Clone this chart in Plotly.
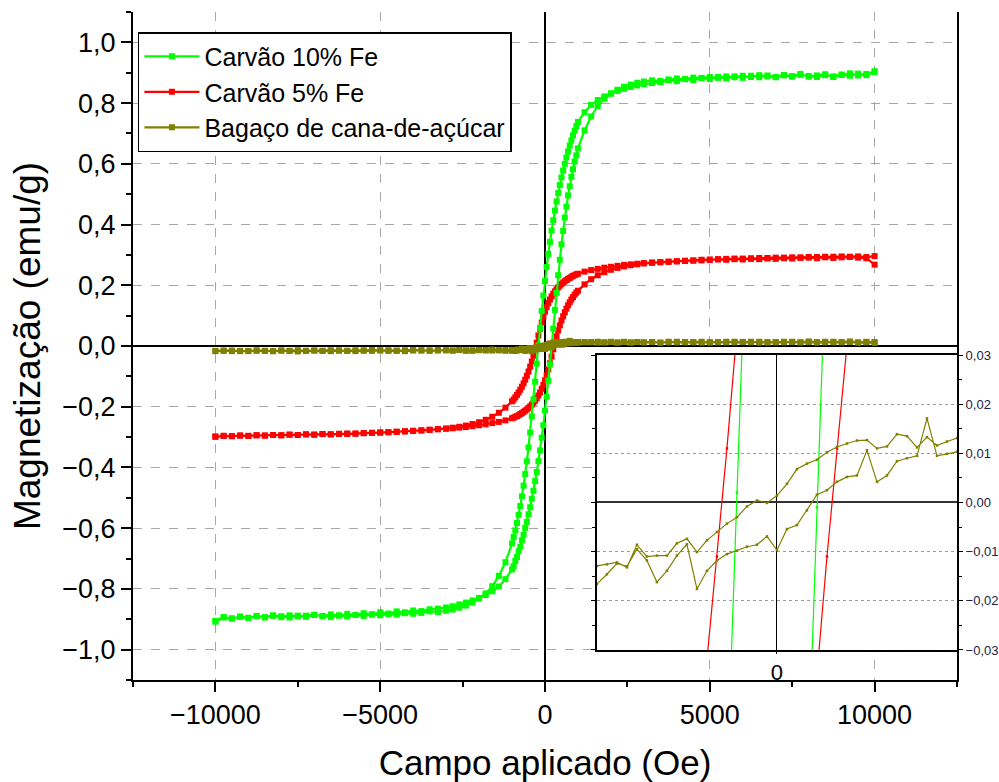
import plotly.graph_objects as go

# ---------------- data ----------------
# field sweep (Oe): descending branch +10000 -> -10000
H_down = [10000, 9750, 9500, 9250, 9000, 8750, 8500, 8250, 8000, 7750, 7500, 7250, 7000, 6750, 6500,
          6250, 6000, 5750, 5500, 5250, 5000, 4750, 4500, 4250, 4000, 3750, 3500, 3250, 3000,
          2800, 2600, 2400, 2200, 2000, 1800, 1600, 1400, 1200,
          1000, 950, 900, 850, 800, 750, 700, 650, 600, 550, 500, 450, 400, 350, 300, 250, 200, 150, 100, 50,
          0, -50, -100, -150, -200, -250, -300, -350, -400, -450, -500, -550, -600, -650, -700, -750, -800,
          -850, -900, -950, -1000,
          -1200, -1400, -1600, -1800, -2000, -2200, -2400, -2600, -2800,
          -3000, -3250, -3500, -3750, -4000, -4250, -4500, -4750, -5000, -5250, -5500, -5750, -6000, -6250,
          -6500, -6750, -7000, -7250, -7500, -7750, -8000, -8250, -8500, -8750, -9000, -9250, -9500, -9750, -10000]
# ascending branch -10000 -> +10000 (same field points)
H_up = H_down[::-1]

# Carvão 10% Fe (emu/g)
green_down = [0.905, 0.896, 0.891, 0.898, 0.893, 0.886, 0.895, 0.891, 0.887, 0.896, 0.889, 0.893, 0.886, 0.891, 0.885,
              0.890, 0.883, 0.888, 0.881, 0.886, 0.879, 0.883, 0.876, 0.879, 0.872, 0.875, 0.869, 0.866, 0.862,
              0.858, 0.853, 0.847, 0.840, 0.832, 0.822, 0.810, 0.794, 0.770,
              0.738, 0.724, 0.709, 0.694, 0.677, 0.660, 0.641, 0.621, 0.600, 0.578, 0.555, 0.530, 0.504, 0.476,
              0.446, 0.414, 0.380, 0.343, 0.303, 0.260, 0.214, 0.166, 0.115, 0.060, 0.002, -0.058, -0.118, -0.176,
              -0.232, -0.285, -0.334, -0.380, -0.422, -0.460, -0.495, -0.527, -0.556, -0.583, -0.607, -0.629, -0.650,
              -0.712, -0.757, -0.791, -0.815, -0.832, -0.845, -0.855, -0.862, -0.868,
              -0.872, -0.876, -0.874, -0.879, -0.882, -0.880, -0.885, -0.883, -0.887, -0.884, -0.889, -0.886, -0.891,
              -0.887, -0.893, -0.889, -0.886, -0.892, -0.888, -0.894, -0.890, -0.887, -0.893, -0.889, -0.895, -0.891,
              -0.898, -0.893, -0.905]
green_up = [-0.908, -0.894, -0.897, -0.892, -0.896, -0.890, -0.894, -0.889, -0.893, -0.887, -0.891, -0.888, -0.885,
            -0.890, -0.884, -0.888, -0.882, -0.886, -0.880, -0.884, -0.877, -0.881, -0.874, -0.877, -0.871, -0.873,
            -0.867, -0.865, -0.861,
            -0.857, -0.851, -0.845, -0.838, -0.830, -0.820, -0.808, -0.792, -0.768,
            -0.736, -0.725, -0.708, -0.695, -0.676, -0.661, -0.640, -0.622, -0.599, -0.579, -0.554, -0.531, -0.503,
            -0.477, -0.445, -0.415, -0.379, -0.344, -0.302, -0.261, -0.213, -0.167, -0.114, -0.061, -0.001, 0.057,
            0.119, 0.175, 0.233, 0.284, 0.335, 0.379, 0.423, 0.459, 0.496, 0.526, 0.557, 0.582, 0.608, 0.628, 0.651,
            0.710, 0.756, 0.790, 0.814, 0.831, 0.844, 0.854, 0.861, 0.867,
            0.871, 0.875, 0.873, 0.878, 0.881, 0.879, 0.884, 0.882, 0.886, 0.883, 0.888, 0.885, 0.890, 0.886, 0.892,
            0.888, 0.885, 0.891, 0.887, 0.893, 0.889, 0.886, 0.892, 0.888, 0.894, 0.890, 0.897, 0.892, 0.902]

# Carvão 5% Fe (emu/g)
red_down = [0.268, 0.289, 0.291, 0.293, 0.292, 0.290, 0.292, 0.289, 0.291, 0.290, 0.288, 0.289, 0.287, 0.288, 0.286,
            0.287, 0.285, 0.286, 0.284, 0.285, 0.283, 0.282, 0.281, 0.280, 0.279, 0.278, 0.276, 0.275, 0.273,
            0.271, 0.269, 0.267, 0.264, 0.261, 0.258, 0.254, 0.250, 0.245,
            0.238, 0.236, 0.233, 0.231, 0.228, 0.224, 0.221, 0.217, 0.213, 0.209, 0.204, 0.199, 0.193, 0.187,
            0.180, 0.172, 0.163, 0.153, 0.141, 0.128, 0.113, 0.096, 0.077, 0.057, 0.035, 0.011, -0.011, -0.032,
            -0.051, -0.068, -0.084, -0.098, -0.111, -0.123, -0.134, -0.144, -0.153, -0.161, -0.169, -0.176, -0.182,
            -0.203, -0.220, -0.233, -0.243, -0.251, -0.257, -0.262, -0.266, -0.269,
            -0.272, -0.274, -0.276, -0.278, -0.280, -0.281, -0.283, -0.284, -0.285, -0.286, -0.287, -0.289, -0.288,
            -0.290, -0.291, -0.290, -0.292, -0.291, -0.293, -0.292, -0.294, -0.293, -0.295, -0.294, -0.296, -0.295,
            -0.297, -0.296, -0.298]
red_up = [-0.299, -0.296, -0.297, -0.295, -0.296, -0.294, -0.295, -0.293, -0.294, -0.292, -0.293, -0.291, -0.292,
          -0.290, -0.291, -0.289, -0.290, -0.288, -0.287, -0.286, -0.285, -0.284, -0.282, -0.281, -0.279, -0.278,
          -0.276, -0.274, -0.272,
          -0.271, -0.269, -0.267, -0.264, -0.261, -0.258, -0.254, -0.250, -0.245,
          -0.238, -0.236, -0.233, -0.231, -0.228, -0.224, -0.221, -0.217, -0.213, -0.209, -0.204, -0.199, -0.193,
          -0.187, -0.180, -0.172, -0.163, -0.153, -0.141, -0.128, -0.113, -0.096, -0.077, -0.057, -0.035, -0.011,
          0.011, 0.032, 0.051, 0.068, 0.084, 0.098, 0.111, 0.123, 0.134, 0.144, 0.153, 0.161, 0.169, 0.176, 0.182,
          0.203, 0.220, 0.233, 0.243, 0.251, 0.257, 0.262, 0.266, 0.269,
          0.272, 0.274, 0.276, 0.277, 0.279, 0.281, 0.282, 0.284, 0.285, 0.286, 0.287, 0.288, 0.288, 0.289, 0.290,
          0.290, 0.291, 0.291, 0.292, 0.292, 0.293, 0.293, 0.294, 0.294, 0.295, 0.294, 0.295, 0.293, 0.296]

# Bagaço de cana-de-açúcar (emu/g)
olive_down = [0.013, 0.014, 0.012, 0.015, 0.013, 0.012, 0.014, 0.013, 0.015, 0.012, 0.013, 0.014, 0.012, 0.013,
              0.011, 0.014, 0.013, 0.012, 0.014, 0.012, 0.013, 0.011, 0.013, 0.012, 0.014, 0.012, 0.011, 0.013, 0.012,
              0.013, 0.012, 0.014, 0.011, 0.013, 0.012, 0.014, 0.012, 0.013,
              0.0128, 0.0122, 0.0131, 0.0124, 0.0116, 0.0133, 0.0112, 0.0135, 0.0139, 0.0114, 0.0110, 0.0127,
              0.0126, 0.0120, 0.0113, 0.0102, 0.0087, 0.0079, 0.0068, 0.0038, 0.0014, -0.0001, 0.0004, -0.0008,
              -0.0030, -0.0043, -0.0060, -0.0077, -0.0101, -0.0074, -0.0083, -0.0108, -0.0108, -0.0110, -0.0086,
              -0.0132, -0.0122, -0.0126, -0.0129, -0.0131, -0.0135,
              -0.013, -0.014, -0.012, -0.015, -0.013, -0.014, -0.016, -0.013, -0.015,
              -0.014, -0.015, -0.016, -0.014, -0.015, -0.017, -0.015, -0.016, -0.014, -0.016, -0.015, -0.017, -0.016,
              -0.015, -0.017, -0.016, -0.015, -0.016, -0.018, -0.016, -0.015, -0.017, -0.016, -0.015, -0.017, -0.016,
              -0.017, -0.015, -0.016]
olive_up = [-0.017, -0.016, -0.015, -0.017, -0.016, -0.015, -0.016, -0.017, -0.015, -0.016, -0.014, -0.016, -0.015,
            -0.016, -0.014, -0.015, -0.016, -0.014, -0.015, -0.013, -0.015, -0.014, -0.016, -0.014, -0.013, -0.015,
            -0.014, -0.013, -0.014,
            -0.015, -0.013, -0.014, -0.016, -0.014, -0.013, -0.015, -0.014, -0.016,
            -0.0158, -0.0150, -0.0166, -0.0146, -0.0124, -0.0130, -0.0095, -0.0118, -0.0162, -0.0139, -0.0108,
            -0.0085, -0.0176, -0.0139, -0.0118, -0.0105, -0.0098, -0.0090, -0.0086, -0.0069, -0.0097, -0.0054,
            -0.0046, -0.0016, 0.0016, 0.0025, 0.0042, 0.0052, 0.0055, 0.0106, 0.0042, 0.0055, 0.0084, 0.0090,
            0.0095, 0.0171, 0.0095, 0.0099, 0.0103, 0.0110, 0.0115,
            0.012, 0.013, 0.011, 0.012, 0.014, 0.012, 0.013, 0.011, 0.013,
            0.012, 0.013, 0.011, 0.014, 0.012, 0.013, 0.012, 0.014, 0.011, 0.013, 0.012, 0.014, 0.013, 0.012, 0.014,
            0.011, 0.013, 0.012, 0.014, 0.012, 0.013, 0.011, 0.012, 0.014, 0.012, 0.013, 0.011, 0.012, 0.010]

series_names = ["Carvão 10% Fe", "Carvão 5% Fe", "Bagaço de cana-de-açúcar"]
series_colors = ["#00ff00", "#ff0000", "#808000"]

x_tickvals = [-10000, -5000, 0, 5000, 10000]
inset_tickvals_x = [0]

# ---------------- figure ----------------
FONT = "Liberation Sans, Arial, sans-serif"
H_all = H_down + H_up
series = {
    "Carvão 10% Fe": green_down + green_up,
    "Carvão 5% Fe": red_down + red_up,
    "Bagaço de cana-de-açúcar": olive_down + olive_up,
}
color_of = dict(zip(series_names, series_colors))
rank_of = {n: i for i, n in enumerate(series_names)}
draw_order = ["Carvão 5% Fe", "Carvão 10% Fe", "Bagaço de cana-de-açúcar"]

fig = go.Figure()
for name in draw_order:
    fig.add_trace(go.Scatter(
        x=H_all, y=series[name], mode="lines+markers", name=name,
        legendrank=rank_of[name] + 1,
        line=dict(color=color_of[name], width=2.2),
        marker=dict(symbol="square", size=6, color=color_of[name]),
        xaxis="x", yaxis="y"))
for name in draw_order:
    fig.add_trace(go.Scatter(
        x=H_all, y=series[name], mode="lines+markers", showlegend=False,
        line=dict(color=color_of[name], width=1.2),
        marker=dict(symbol="square", size=2.5, color=color_of[name]),
        xaxis="x2", yaxis="y2"))

grid_col = "#a8a8a8"
fig.update_layout(
    width=999, height=782,
    margin=dict(l=133, r=42, t=12, b=102),
    paper_bgcolor="white", plot_bgcolor="white",
    separators=", ",
    font=dict(family=FONT, color="black"),
    showlegend=True,
    legend=dict(x=0.006, y=0.97, xanchor="left", yanchor="top",
                bgcolor="white", bordercolor="black", borderwidth=1.5,
                font=dict(size=25, family=FONT, color="black"),
                itemwidth=55, tracegroupgap=0),
    xaxis=dict(domain=[0, 1], range=[-12500, 12500], tickvals=x_tickvals, tickformat="d",
               automargin=False,
               showline=True, linecolor="black", linewidth=2,
               ticks="outside", ticklen=10, tickwidth=2, tickcolor="black",
               minor=dict(dtick=2500, ticks="outside", ticklen=5, tickwidth=2, tickcolor="black", showgrid=False),
               showgrid=True, gridcolor=grid_col, griddash="dash", gridwidth=1,
               zeroline=True, zerolinecolor="black", zerolinewidth=2,
               tickfont=dict(size=27, family=FONT, color="black"),
               title=dict(text="Campo aplicado (Oe)", font=dict(size=35, family=FONT, color="black"), standoff=30),
               anchor="y"),
    yaxis=dict(domain=[0, 1], range=[-1.1, 1.1], dtick=0.2, tick0=0, tickformat=".1f",
               automargin=False,
               showline=True, linecolor="black", linewidth=2, mirror=True,
               ticks="outside", ticklen=10, tickwidth=2, tickcolor="black",
               minor=dict(dtick=0.1, ticks="outside", ticklen=5, tickwidth=2, tickcolor="black", showgrid=False),
               showgrid=True, gridcolor=grid_col, griddash="dash", gridwidth=1,
               zeroline=True, zerolinecolor="black", zerolinewidth=2,
               tickfont=dict(size=27, family=FONT, color="black"),
               title=dict(text="Magnetização (emu/g)", font=dict(size=37, family=FONT, color="black"), standoff=10),
               anchor="x"),
    xaxis2=dict(domain=[0.563, 1.0], range=[-900, 900], tickvals=inset_tickvals_x,
                automargin=False,
                showline=True, linecolor="black", linewidth=1.5, mirror=True,
                ticks="outside", ticklen=2, tickwidth=1, tickcolor="black",
                showgrid=False, zeroline=True, zerolinecolor="black", zerolinewidth=1.2,
                tickfont=dict(size=22, family=FONT, color="black"),
                anchor="y2"),
    yaxis2=dict(domain=[0.045, 0.4865], range=[-0.03, 0.03], dtick=0.01, tick0=0, tickformat=".2f",
                automargin=False,
                side="right", showline=True, linecolor="black", linewidth=2, mirror="ticks",
                ticks="outside", ticklen=4, tickwidth=1, tickcolor="black",
                minor=dict(dtick=0.005, ticks="outside", ticklen=3, tickwidth=1, tickcolor="black", showgrid=False),
                showgrid=True, gridcolor="#9a9a9a", griddash="dot", gridwidth=1,
                zeroline=True, zerolinecolor="#333333", zerolinewidth=1.5,
                tickfont=dict(size=13, family=FONT, color="#1c2340"),
                anchor="x2"),
)

fig.write_html("out.html")
